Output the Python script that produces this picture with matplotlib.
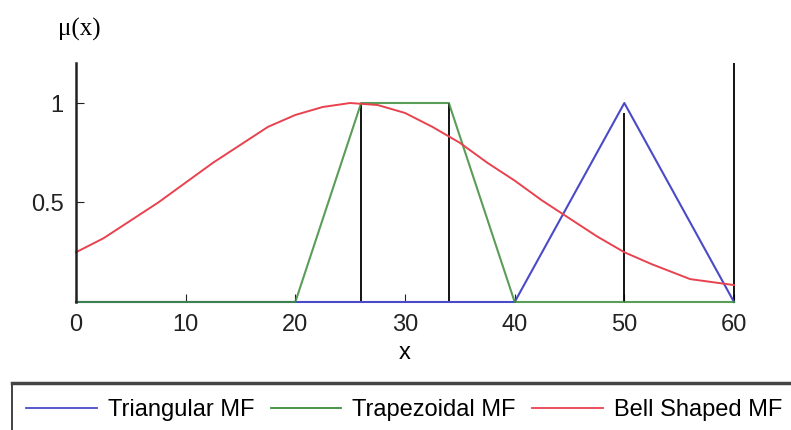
import numpy as np
import matplotlib
matplotlib.use('Agg')
import matplotlib.pyplot as plt
from matplotlib.patches import Rectangle
from matplotlib.lines import Line2D

# membership functions
tri_x = [0, 40, 50, 60]
tri_y = [0, 0, 1, 0]

trap_x = [0, 20, 26, 34, 40, 60]
trap_y = [0, 0, 1, 1, 0, 0]

bell_x = [0, 2.5, 5, 7.5, 10, 12.5, 15, 17.5, 20, 22.5, 25, 27.5, 30,
          32.5, 35, 37.5, 40, 42.5, 45, 47.5, 50, 52.5, 56, 60]
bell_y = [0.25, 0.32, 0.41, 0.5, 0.6, 0.7, 0.79, 0.88, 0.94, 0.98, 1.0, 0.99, 0.95,
          0.88, 0.80, 0.70, 0.61, 0.51, 0.42, 0.33, 0.25, 0.19, 0.115, 0.085]

# black marker lines
vline_x = [26, 34, 50, 60]
vline_top = [1, 1, 0.95, 1.2]

xticks = [0, 10, 20, 30, 40, 50, 60]
yticks = [0.5, 1]
ytick_labels = ['0.5', '1']

blue = '#4a4ac8'
green = '#3c8c3c'
red = '#e8424e'

plt.rcParams['font.family'] = ['Liberation Sans', 'DejaVu Sans']

fig = plt.figure(figsize=(7.91, 4.30), dpi=100)
ax = fig.add_axes([76/791, 0.2977, 658/791, 0.5553])

ax.vlines(vline_x, 0, vline_top, colors='black', linewidth=1.3, clip_on=False)
ax.plot(tri_x, tri_y, color=blue, linewidth=1.5, clip_on=False)
ax.plot(trap_x, trap_y, color=green, linewidth=1.5, clip_on=False, alpha=0.85)
ax.plot(bell_x, bell_y, color=red, linewidth=1.4, clip_on=False)

ax.set_xlim(0, 60)
ax.set_ylim(0, 1.2)
ax.set_xticks(xticks)
ax.set_yticks(yticks)
ax.set_yticklabels(ytick_labels)
ax.tick_params(direction='in', length=6, labelsize=17, colors='#222222', pad=9)
for s in ['top', 'right', 'bottom']:
    ax.spines[s].set_visible(False)
ax.spines['left'].set_linewidth(1.8)
ax.spines['left'].set_color('#222222')
ax.set_xlabel('x', fontsize=17, labelpad=4)

fig.text(79/791, 1 - 29/430, r'μ(x)', family='Liberation Serif', fontsize=18,
         ha='center', va='center')

# legend box
fig.patches.append(Rectangle((12/791, -0.2), 1.0, 0.2 + (430-384)/430,
                             transform=fig.transFigure, fill=False,
                             edgecolor='#222222', linewidth=1.2))
fig.lines.append(Line2D([12/791, 1.0], [(430-383)/430]*2, transform=fig.transFigure,
                        color='#444444', linewidth=2.5))

handles = [Line2D([], [], color=blue, linewidth=1.3),
           Line2D([], [], color=green, linewidth=1.3),
           Line2D([], [], color=red, linewidth=1.3)]
fig.legend(handles, ['Triangular MF', 'Trapezoidal MF', 'Bell Shaped MF'],
           loc='center', bbox_to_anchor=(404/791, 20/430), ncol=3, frameon=False,
           fontsize=17, handlelength=3.0, handletextpad=0.45, columnspacing=0.7)

fig.savefig('out.png', dpi=100)
